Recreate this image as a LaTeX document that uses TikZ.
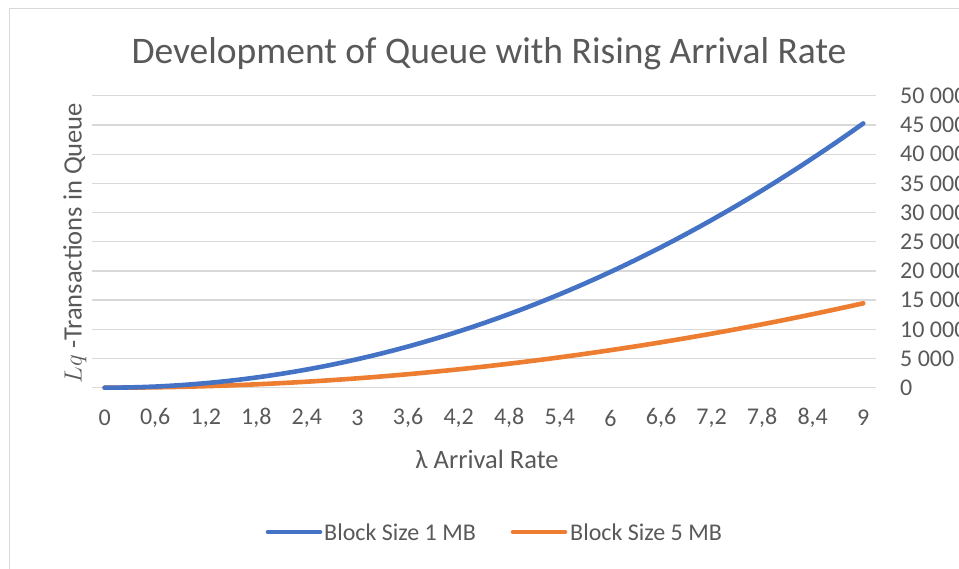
\documentclass[tikz,border=0pt]{standalone}
\usepackage{fontspec}
\setmainfont{Carlito}
\definecolor{lineblue}{HTML}{4472C4}
\definecolor{lineorange}{HTML}{ED7D31}
\definecolor{gridgray}{HTML}{D9D9D9}
\definecolor{textgray}{HTML}{595959}

\begin{document}
\begin{tikzpicture}[x=1pt,y=1pt,
    gridline/.style={draw=gridgray, line width=1.3pt},
    series/.style={line width=4.6pt, line cap=round, line join=round},
    ticklabel/.style={text=textgray, inner sep=0pt, font=\fontsize{24}{28}\selectfont},
    axistitle/.style={text=textgray, inner sep=0pt, font=\fontsize{26.5}{30}\selectfont}]

  \useasboundingbox (0,0) rectangle (959,568);
  \draw[gridgray, line width=1pt] (9.5,-20) -- (9.5,559.5) -- (990,559.5);

  \node[text=textgray, inner sep=0pt, font=\fontsize{37.5}{42}\selectfont] (title) at (489,514)
    {Development of Queue with Rising Arrival Rate};

  % horizontal grid
  \draw[gridline] (92,180.3) -- (876,180.3);
  \draw[gridline] (92,209.5) -- (876,209.5);
  \draw[gridline] (92,238.7) -- (876,238.7);
  \draw[gridline] (92,267.9) -- (876,267.9);
  \draw[gridline] (92,297.1) -- (876,297.1);
  \draw[gridline] (92,326.3) -- (876,326.3);
  \draw[gridline] (92,355.4) -- (876,355.4);
  \draw[gridline] (92,384.6) -- (876,384.6);
  \draw[gridline] (92,413.8) -- (876,413.8);
  \draw[gridline] (92,443.0) -- (876,443.0);
  \draw[gridline] (92,472.2) -- (876,472.2);

  \begin{scope}[every node/.style={ticklabel, anchor=west}]
    \node (y0)  at (900,180.3) {0};
    \node (y5)  at (900,209.5) {5 000};
    \node (y10) at (900,238.7) {10 000};
    \node (y15) at (900,267.9) {15 000};
    \node (y20) at (900,297.1) {20 000};
    \node (y25) at (900,326.3) {25 000};
    \node (y30) at (900,355.4) {30 000};
    \node (y35) at (900,384.6) {35 000};
    \node (y40) at (900,413.8) {40 000};
    \node (y45) at (900,443.0) {45 000};
    \node (y50) at (900,472.2) {50 000};
  \end{scope}

  \begin{scope}[every node/.style={ticklabel}]
    \node (x0)  at (104.6,150) {0};
    \node (x1)  at (155.2,150) {0,6};
    \node (x2)  at (205.8,150) {1,2};
    \node (x3)  at (256.3,150) {1,8};
    \node (x4)  at (306.9,150) {2,4};
    \node (x5)  at (357.5,150) {3};
    \node (x6)  at (408.1,150) {3,6};
    \node (x7)  at (458.7,150) {4,2};
    \node (x8)  at (509.2,150) {4,8};
    \node (x9)  at (559.8,150) {5,4};
    \node (x10) at (610.4,150) {6};
    \node (x11) at (661.0,150) {6,6};
    \node (x12) at (711.6,150) {7,2};
    \node (x13) at (762.1,150) {7,8};
    \node (x14) at (812.7,150) {8,4};
    \node (x15) at (863.3,150) {9};
  \end{scope}

  \node[axistitle] (xtitle) at (487,109) {λ Arrival Rate};
  \node[axistitle, rotate=90] (ytitle) at (75,325) {$Lq$ -Transactions in Queue};

  % queue length, in thousands
  \begin{scope}[shift={(104.6pt,180.3pt)}, x=84.3pt, y=5.838pt]
    \draw[series, lineorange] plot[domain=0:9, samples=61] (\x, {0.1785*\x*\x});
    \draw[series, lineblue] plot[domain=0:9, samples=61] (\x, {0.5353*\x*\x/(1-\x/213)});
  \end{scope}

  % legend
  \coordinate (b1) at (268,36);
  \coordinate (b2) at (320,36);
  \coordinate (o1) at (513,36);
  \coordinate (o2) at (565,36);
  \draw[series, lineblue] (b1) -- (b2);
  \draw[series, lineorange] (o1) -- (o2);
  \node[ticklabel, anchor=west] (lblue) at (324,36) {Block Size 1 MB};
  \node[ticklabel, anchor=west] (lorange) at (570,36) {Block Size 5 MB};

\end{tikzpicture}
\end{document}
